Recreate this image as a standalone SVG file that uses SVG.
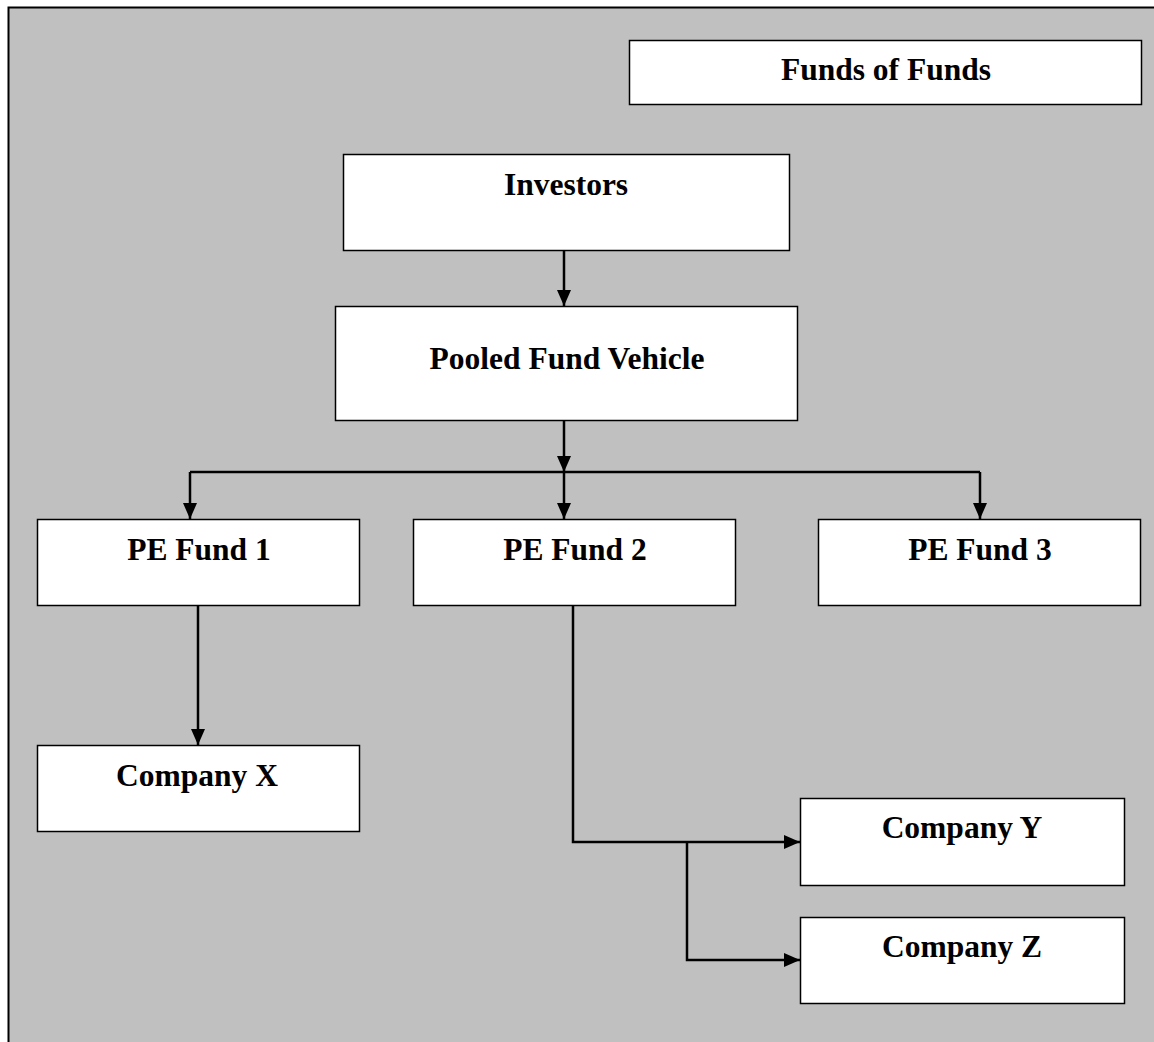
<svg xmlns="http://www.w3.org/2000/svg" width="1154" height="1042" viewBox="0 0 1154 1042">
<defs>
<marker id="ah" markerWidth="16" markerHeight="14" refX="16" refY="7" orient="auto" markerUnits="userSpaceOnUse">
<path d="M0,0 L16,7 L0,14 Z" fill="#000"/>
</marker>
<style>
.box{fill:#fff;stroke:#000;stroke-width:1.5}
.lbl{font-family:"Liberation Serif","Times New Roman",serif;font-weight:bold;font-size:31.5px;fill:#000;text-anchor:middle}
.c{fill:none;stroke:#000;stroke-width:2.5}
</style>
</defs>
<rect width="1154" height="1042" fill="#fff"/>
<rect x="8.5" y="7.5" width="1150" height="1040" fill="#c0c0c0" stroke="#000" stroke-width="2"/>
<g id="funds-of-funds"><rect class="box" x="629.5" y="40.5" width="512" height="64" stroke-width="2"/><text class="lbl" x="886" y="80">Funds of Funds</text></g>
<g id="investors"><rect class="box" x="343.5" y="154.5" width="446" height="96"/><text class="lbl" x="566" y="195">Investors</text></g>
<g id="pooled"><rect class="box" x="335.5" y="306.5" width="462" height="114"/><text class="lbl" x="567" y="369">Pooled Fund Vehicle</text></g>
<g id="pe1"><rect class="box" x="37.5" y="519.5" width="322" height="86"/><text class="lbl" x="199" y="560">PE Fund 1</text></g>
<g id="pe2"><rect class="box" x="413.5" y="519.5" width="322" height="86"/><text class="lbl" x="575" y="560">PE Fund 2</text></g>
<g id="pe3"><rect class="box" x="818.5" y="519.5" width="322" height="86"/><text class="lbl" x="980" y="560">PE Fund 3</text></g>
<g id="company-x"><rect class="box" x="37.5" y="745.5" width="322" height="86"/><text class="lbl" x="197" y="786">Company X</text></g>
<g id="company-y"><rect class="box" x="800.5" y="798.5" width="324" height="87"/><text class="lbl" x="962" y="838">Company Y</text></g>
<g id="company-z"><rect class="box" x="800.5" y="917.5" width="324" height="86"/><text class="lbl" x="962" y="957">Company Z</text></g>
<g id="connectors">
<line class="c" x1="564" y1="251" x2="564" y2="306" marker-end="url(#ah)"/>
<line class="c" x1="564" y1="421" x2="564" y2="472" marker-end="url(#ah)"/>
<line class="c" x1="190" y1="472" x2="980" y2="472"/>
<line class="c" x1="190" y1="472" x2="190" y2="519" marker-end="url(#ah)"/>
<line class="c" x1="564" y1="472" x2="564" y2="519" marker-end="url(#ah)"/>
<line class="c" x1="980" y1="472" x2="980" y2="519" marker-end="url(#ah)"/>
<line class="c" x1="198" y1="606" x2="198" y2="745" marker-end="url(#ah)"/>
<polyline class="c" points="573,606 573,842 800,842" marker-end="url(#ah)"/>
<polyline class="c" points="687,842 687,960 800,960" marker-end="url(#ah)"/>
</g>
</svg>
